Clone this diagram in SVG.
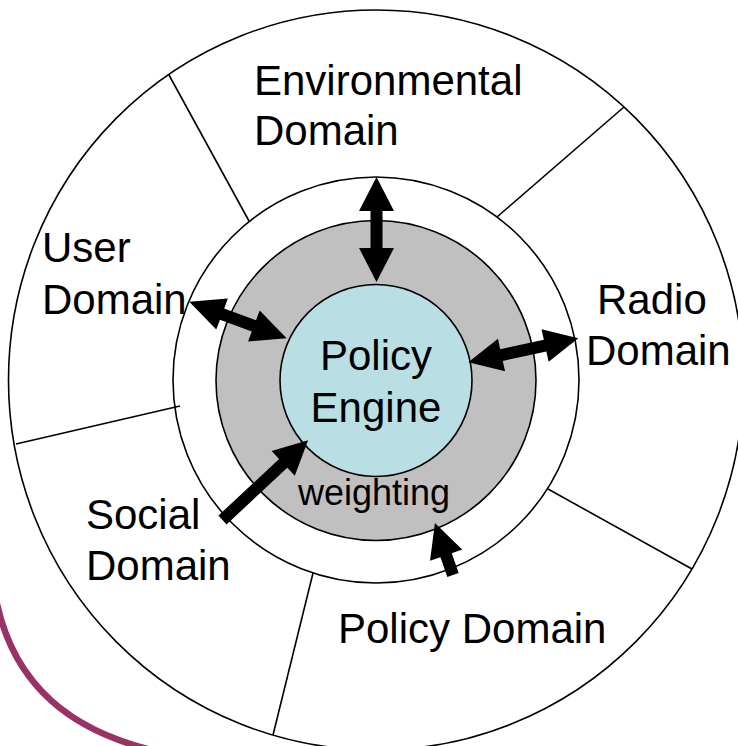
<svg xmlns="http://www.w3.org/2000/svg" width="738" height="746" viewBox="0 0 738 746">
  <style>
    .ring { stroke: #000; stroke-width: 1.6; }
    .spoke { stroke: #000; stroke-width: 1.6; fill: none; }
    .lbl { font-family: "Liberation Sans", Arial, sans-serif; font-size: 42px; fill: #000; }
    .small { font-size: 36px; }
    .arrow { fill: #000; stroke: none; }
  </style>
  <rect x="0" y="0" width="738" height="746" fill="#fff"/>
  <path d="M -3,604 C 15,685 70,732 160,752" fill="none" stroke="#993366" stroke-width="6.5"/>
  <g id="outer-ring">
    <ellipse class="ring" cx="376" cy="380" rx="367.5" ry="370" fill="#fff"/>
  </g>
  <g id="middle-ring">
    <circle class="ring" cx="376" cy="380" r="203" fill="#fff"/>
  </g>
  <g id="spokes">
    <line class="spoke" x1="169" y1="75" x2="249" y2="221"/>
    <line class="spoke" x1="624" y1="107" x2="497" y2="217"/>
    <line class="spoke" x1="16" y1="444" x2="180" y2="406"/>
    <line class="spoke" x1="548" y1="489" x2="692" y2="569"/>
    <line class="spoke" x1="313" y1="573" x2="273" y2="735"/>
  </g>
  <g id="weighting">
    <circle class="ring" cx="376" cy="380.5" r="160" fill="#C0C0C0"/>
    <text class="lbl small" x="374" y="505" text-anchor="middle">weighting</text>
  </g>
  <g id="policy-engine">
    <circle class="ring" cx="376" cy="380.5" r="96" fill="#B9DFE4"/>
    <text class="lbl" x="376" y="370" text-anchor="middle">Policy</text>
    <text class="lbl" x="376" y="422" text-anchor="middle">Engine</text>
  </g>
  <g id="environmental-domain">
    <text class="lbl" x="254" y="95">Environmental</text>
    <text class="lbl" x="254" y="145">Domain</text>
  </g>
  <g id="user-domain">
    <text class="lbl" x="42" y="262">User</text>
    <text class="lbl" x="42" y="314">Domain</text>
  </g>
  <g id="radio-domain">
    <text class="lbl" x="597" y="314">Radio</text>
    <text class="lbl" x="586" y="365">Domain</text>
  </g>
  <g id="social-domain">
    <text class="lbl" x="86" y="529">Social</text>
    <text class="lbl" x="86" y="580">Domain</text>
  </g>
  <g id="policy-domain">
    <text class="lbl" x="338" y="643">Policy Domain</text>
  </g>
  <g id="connectors">
    <polygon class="arrow" transform="translate(376.5,177) rotate(90)" points="0,0 34,-17.5 34,-6 71,-6 71,-17.5 105,0 71,17.5 71,6 34,6 34,17.5"/>
    <polygon class="arrow" transform="translate(189.3,301.7) rotate(20.6)" points="0,0 35,-16.5 35,-6 69,-6 69,-16.5 104,0 69,16.5 69,6 35,6 35,16.5"/>
    <polygon class="arrow" transform="translate(468.3,362.3) rotate(-12.3)" points="0,0 34,-16.7 34,-6 78.6,-6 78.6,-16.7 112.6,0 78.6,16.7 78.6,6 34,6 34,16.7"/>
    <polygon class="arrow" transform="translate(222.5,520) rotate(-43)" points="0,-6 83,-6 83,-17 117,0 83,17 83,6 0,6"/>
    <polygon class="arrow" transform="translate(453,575) rotate(-109.2)" points="0,-6 21,-6 21,-17 55,0 21,17 21,6 0,6"/>
  </g>
</svg>
